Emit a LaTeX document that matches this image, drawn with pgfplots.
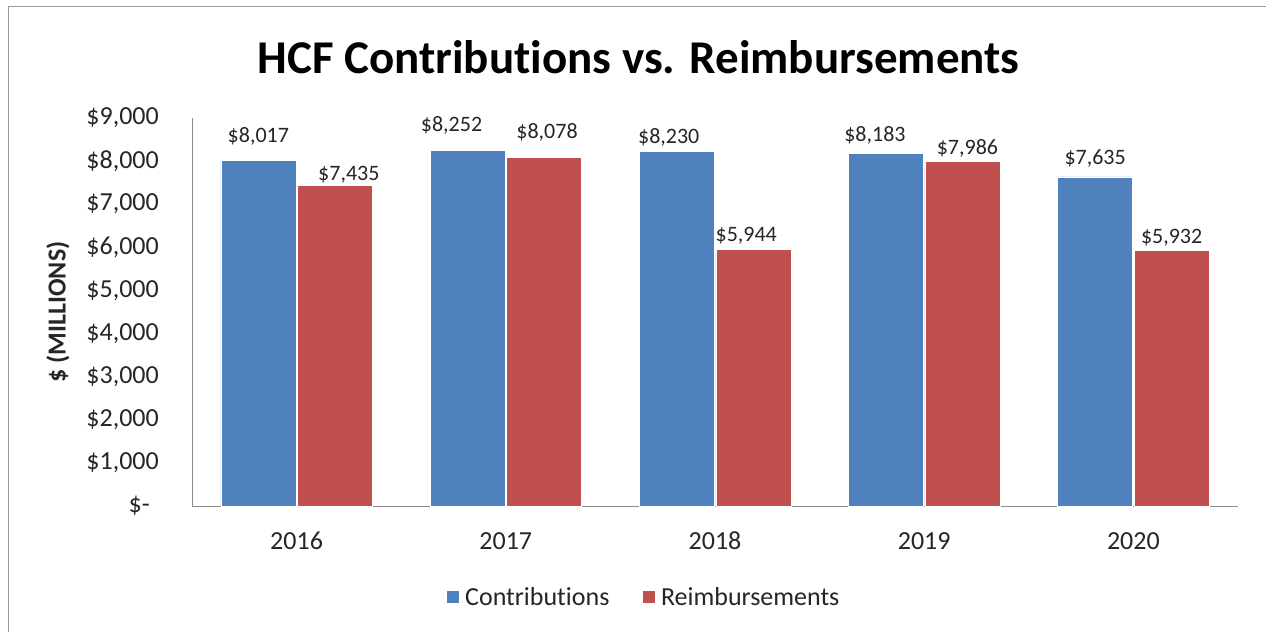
\documentclass[border=0pt]{standalone}
\usepackage{pgfplots}
\pgfplotsset{compat=1.18}
\usepackage{pgfplotstable}
\usepackage{fontspec}
\setmainfont{Carlito}[Ligatures={NoCommon,NoRequired,NoContextual,NoRare}, Contextuals=NoAlternate]
\definecolor{cblue}{HTML}{4F81BD}
\definecolor{cred}{HTML}{C0504D}
\definecolor{txt}{HTML}{262626}
\definecolor{axgray}{HTML}{8C8C8C}
\pgfplotstableread{
x y dx gap
0 8017 0 18
1 8252 -16 19
2 8230 -8 8
3 8183 -11 12
4 7635 0 12
}\contrib
\pgfplotstableread{
x y dx gap
0 7435 14 5
1 8078 3 19
2 5944 -7 8
3 7986 5 7
4 5932 0 7
}\reimb
\begin{document}
\begin{tikzpicture}
\useasboundingbox (0pt,0pt) rectangle (1266pt,632pt);
\fill[white] (0pt,0pt) rectangle (1266pt,632pt);
\draw[gray!80, line width=1pt] (8pt,0pt) -- (8pt,625pt) -- (1266pt,625pt);
\node[anchor=base, font=\bfseries\fontsize{47}{54}\selectfont, text=black] at (638.5pt,558pt) {HCF Contributions vs. Reimbursements};
\node[rotate=90, font=\bfseries\fontsize{26}{30}\selectfont, text=txt] at (58pt,320pt) {\$ (MILLIONS)};
\begin{axis}[
  at={(192pt,126pt)}, anchor=south west,
  scale only axis, width=1046pt, height=388pt,
  /pgf/number format/assume math mode=true,
  ybar=1.5pt, bar width=75pt,
  xmin=-0.5, xmax=4.5, ymin=0, ymax=9000,
  axis x line*=bottom, axis y line*=left,
  axis line style={axgray, line width=1pt},
  major tick length=0pt,
  xtick={0,1,2,3,4}, xticklabels={2016,2017,2018,2019,2020},
  ytick={0,1000,2000,3000,4000,5000,6000,7000,8000,9000},
  yticklabels={{\$-\rule{9pt}{0pt}},{\$1,000},{\$2,000},{\$3,000},{\$4,000},{\$5,000},{\$6,000},{\$7,000},{\$8,000},{\$9,000}},
  xticklabel style={font=\fontsize{26}{30}\selectfont, text=txt, inner sep=0pt, anchor=north, yshift=-26pt},
  yticklabel style={font=\fontsize{26}{30}\selectfont, text=txt, inner sep=0pt, anchor=east, xshift=-33pt},
  nodes near coords={\$\pgfmathprintnumber[1000 sep={,}]{\pgfplotspointmeta}},
  every node near coord/.append style={font=\fontsize{22}{26}\selectfont, text=txt, anchor=base, inner sep=0pt, xshift=\dx pt, yshift=\gap pt},
  legend style={at={(0.4317,-0.2345)}, anchor=center, draw=none, fill=none, font=\fontsize{26}{30}\selectfont, text=txt, legend columns=2, /tikz/every even column/.append style={column sep=30pt}},
  legend image code/.code={\fill[#1] (0pt,-6.5pt) rectangle (13pt,6.5pt); \path (17pt,0pt);},
  clip=false,
]
\addplot[fill=cblue, draw=white, line width=0.5pt, visualization depends on={\thisrow{dx} \as \dx}, visualization depends on={\thisrow{gap} \as \gap}] table[x=x, y=y] {\contrib};
\addplot[fill=cred, draw=white, line width=0.5pt, visualization depends on={\thisrow{dx} \as \dx}, visualization depends on={\thisrow{gap} \as \gap}] table[x=x, y=y] {\reimb};
\legend{Contributions, Reimbursements}
\end{axis}
\end{tikzpicture}
\end{document}
